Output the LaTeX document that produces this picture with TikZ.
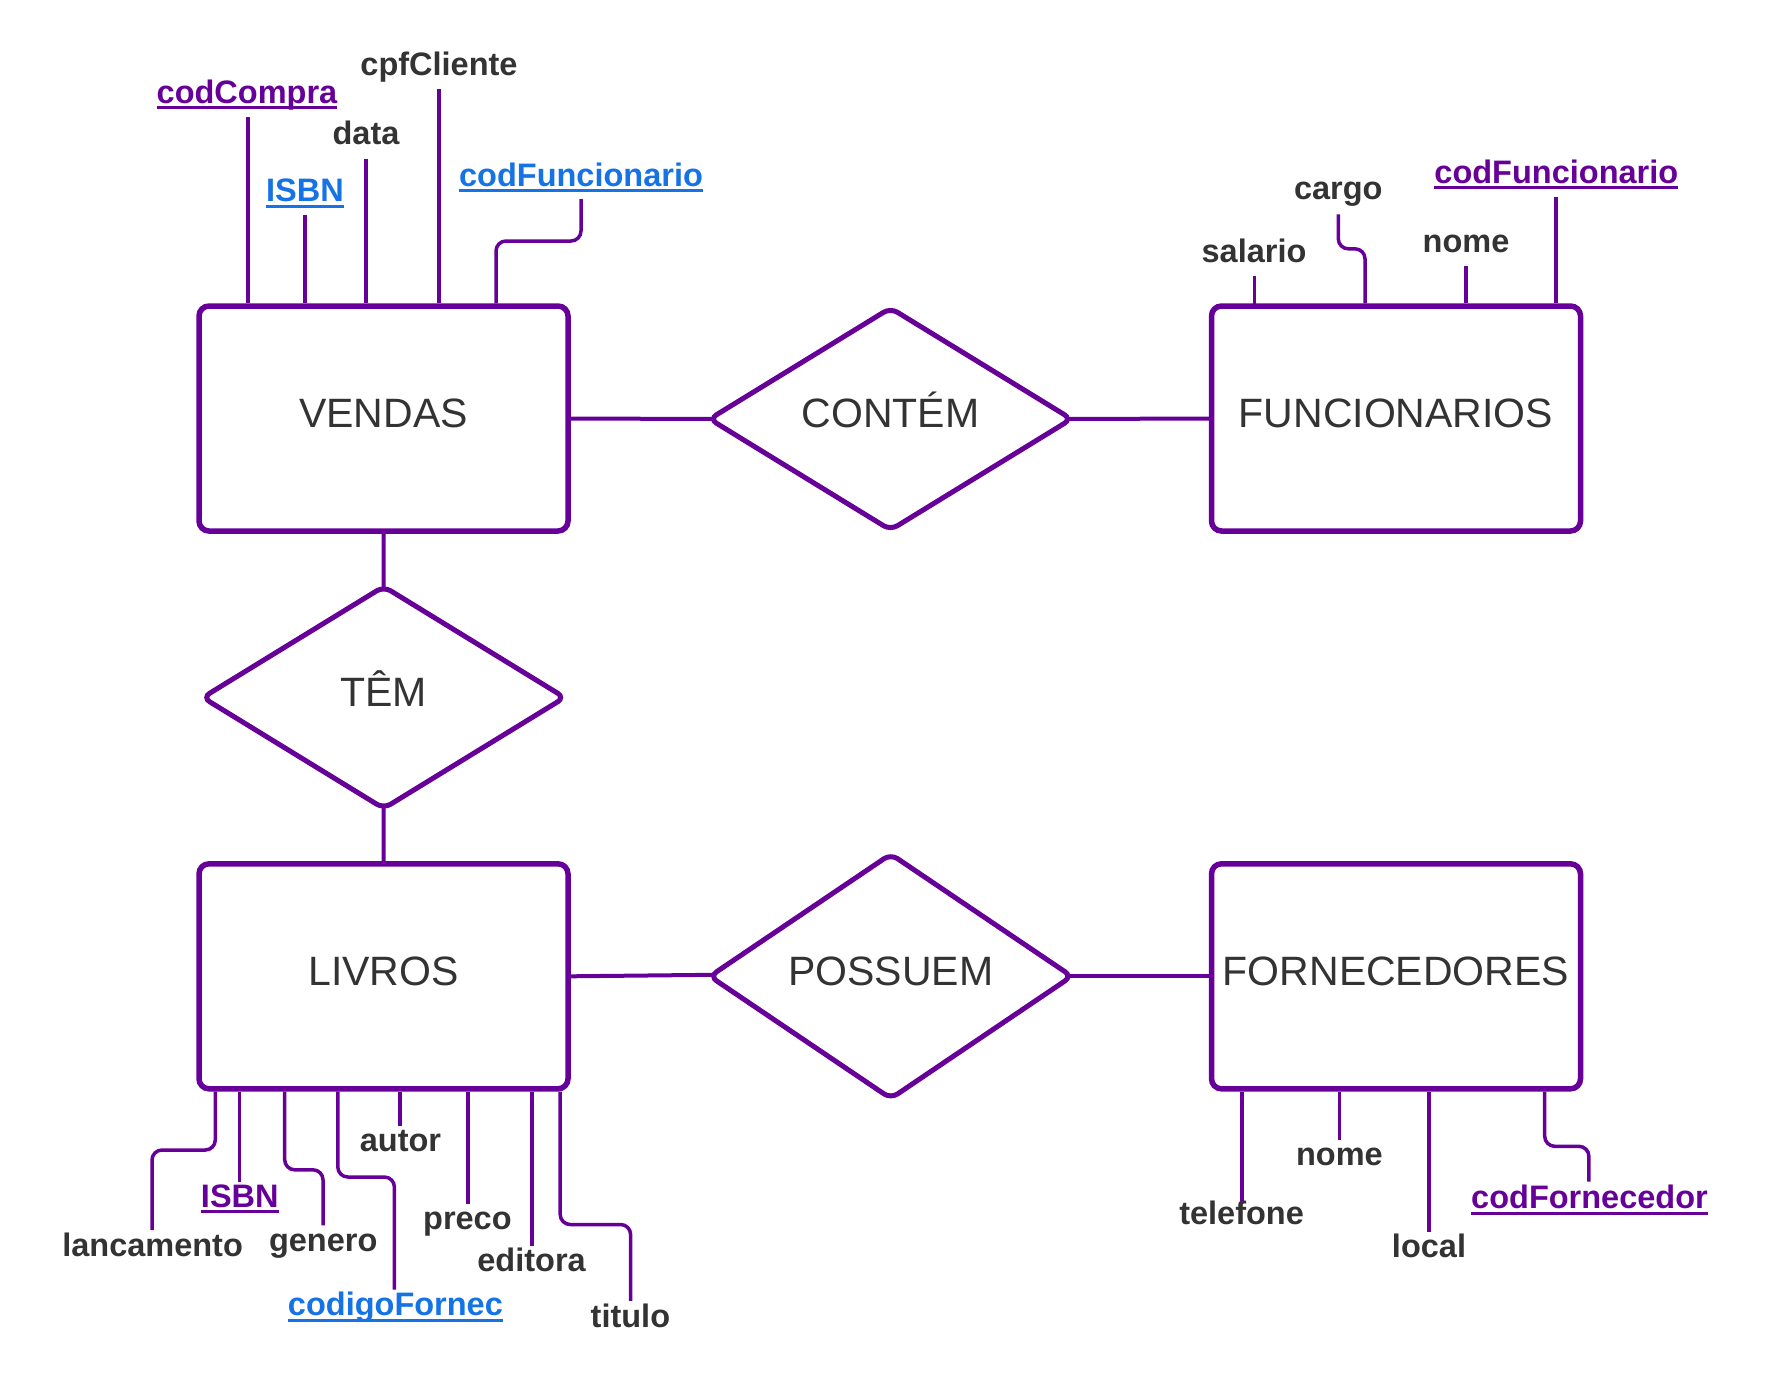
\documentclass[tikz,border=0pt]{standalone}
\usepackage{fontspec}
\setmainfont{Liberation Sans}
\usetikzlibrary{shapes.geometric}
\definecolor{pur}{RGB}{102,0,153}
\definecolor{lnk}{RGB}{22,115,230}
\definecolor{txt}{RGB}{51,51,51}
\newcommand\attrU[6]{%
  \node[#2] (#1) at (#4,#5) {#6};
  \draw[draw=#3, line width=3pt] ([yshift=-4.5pt]#1.base west) -- ([yshift=-4.5pt]#1.base east);}
\begin{document}
\begin{tikzpicture}[x=1pt,y=-1pt,
  entity/.style={draw=pur, line width=5.5pt, rounded corners=10pt, minimum width=369pt, minimum height=225pt, inner sep=0pt, text=txt, font=\fontsize{41}{48}\selectfont, text height=29.4pt, text depth=12pt},
  rel/.style={diamond, draw=pur, line width=5pt, rounded corners=8pt, minimum width=364pt, minimum height=224pt, inner sep=0pt, text=txt, font=\fontsize{41}{48}\selectfont, text height=29.4pt, text depth=12pt},
  attr/.style={inner sep=0pt, anchor=base, text=txt, font=\bfseries\fontsize{32.5}{38}\selectfont},
  keyp/.style={attr, text=pur},
  keyb/.style={attr, text=lnk},
  conn/.style={draw=pur, line width=4pt},
  aline/.style={draw=pur, line width=3.5pt, rounded corners=10pt}]
\useasboundingbox (0,0) rectangle (1789,1384);
\fill[white] (0,0) rectangle (1789,1384);

% entities
\node[entity] (V) at (383.5,418.5) {VENDAS};
\node[entity] (F) at (1396,418.5) {FUNCIONARIOS};
\node[entity] (L) at (383.5,976.3) {LIVROS};
\node[entity] (Fo) at (1396,976.3) {FORNECEDORES};

% relationships
\node[rel] (C) at (890.5,419) {CONTÉM};
\node[rel] (T) at (383.7,697.5) {TÊM};
\node[rel] (P) at (890.8,976.3) {POSSUEM};

\draw[conn] (V.east) -- ([xshift=7pt]C.west);
\draw[conn] ([xshift=-7pt]C.east) -- (F.west);
\draw[conn] (V.south) -- ([yshift=-7pt]T.north);
\draw[conn] ([yshift=7pt]T.south) -- (L.north);
\draw[conn] (L.east) -- ([xshift=7pt,yshift=1.5pt]P.west);
\draw[conn] ([xshift=-7pt]P.east) -- (Fo.west);

% VENDAS attributes
\attrU{vcc}{keyp}{pur}{247}{103.3}{codCompra}
\coordinate (vcc1) at (248,117);
\draw[aline] (vcc1) -- (vcc1 |- V.north);
\attrU{visbn}{keyb}{lnk}{305}{201.7}{ISBN}
\coordinate (visbn1) at (305,215);
\draw[aline] (visbn1) -- (visbn1 |- V.north);
\node[attr] (vdata) at (366,144.7) {data};
\coordinate (vdata1) at (366,159);
\draw[aline] (vdata1) -- (vdata1 |- V.north);
\node[attr] (vcpf) at (439,75.7) {cpfCliente};
\coordinate (vcpf1) at (439,89);
\draw[aline] (vcpf1) -- (vcpf1 |- V.north);
\attrU{vcf}{keyb}{lnk}{581}{186}{codFuncionario}
\coordinate (vcf1) at (581,199);
\draw[aline] (vcf1) -- (581,241) -- (496,241) -- (496,0 |- V.north);

% FUNCIONARIOS attributes
\node[attr] (fsal) at (1254,262) {salario};
\coordinate (fsal1) at (1254.4,275.5);
\draw[aline] (fsal1) -- ([yshift=-4pt]fsal1 |- F.north);
\node[attr] (fcargo) at (1338.3,199) {cargo};
\coordinate (fcargo1) at (1338.3,214.3);
\draw[aline] (fcargo1) -- (1338.3,248.8) -- (1365,248.8) -- (1365,0 |- F.north);
\node[attr] (fnome) at (1466,252.6) {nome};
\coordinate (fnome1) at (1466,266);
\draw[aline] (fnome1) -- (fnome1 |- F.north);
\attrU{fcf}{keyp}{pur}{1556.3}{183}{codFuncionario}
\coordinate (fcf1) at (1556,197);
\draw[aline] (fcf1) -- (fcf1 |- F.north);

% LIVROS attributes
\node[attr] (llan) at (152.6,1256) {lancamento};
\coordinate (llan1) at (152,1230);
\draw[aline] (llan1) -- (152,1150) -- (215.3,1150) -- (215.3,0 |- L.south);
\attrU{lisbn}{keyp}{pur}{239.8}{1207}{ISBN}
\coordinate (lisbn1) at (239.3,1181.7);
\draw[aline] (lisbn1) -- (lisbn1 |- L.south);
\node[attr] (lgen) at (323.2,1251) {genero};
\coordinate (lgen1) at (323,1225.3);
\draw[aline] (lgen1) -- (323,1169.8) -- (284.7,1169.8) -- (284.7,0 |- L.south);
\attrU{lcod}{keyb}{lnk}{395.4}{1315.8}{codigoFornec}
\coordinate (lcod1) at (394.4,1289.7);
\draw[aline] (lcod1) -- (394.4,1177) -- (337.8,1177) -- (337.8,0 |- L.south);
\node[attr] (laut) at (400.5,1151) {autor};
\coordinate (laut1) at (400,1125.8);
\draw[aline] (laut1) -- (laut1 |- L.south);
\node[attr] (lpre) at (467.4,1229.4) {preco};
\coordinate (lpre1) at (467.9,1204);
\draw[aline] (lpre1) -- (lpre1 |- L.south);
\node[attr] (ledi) at (531.6,1271) {editora};
\coordinate (ledi1) at (532,1245.8);
\draw[aline] (ledi1) -- (ledi1 |- L.south);
\node[attr] (ltit) at (630.4,1327) {titulo};
\coordinate (ltit1) at (630.6,1300.9);
\draw[aline] (ltit1) -- (630.6,1224.5) -- (560.2,1224.5) -- (560.2,0 |- L.south);

% FORNECEDORES attributes
\node[attr] (otel) at (1241.6,1224.5) {telefone};
\coordinate (otel1) at (1241.9,1201.4);
\draw[aline] (otel1) -- (otel1 |- Fo.south);
\node[attr] (onome) at (1339.4,1165.7) {nome};
\coordinate (onome1) at (1339.4,1140);
\draw[aline] (onome1) -- (onome1 |- Fo.south);
\node[attr] (oloc) at (1429,1257.3) {local};
\coordinate (oloc1) at (1429,1232);
\draw[aline] (oloc1) -- (oloc1 |- Fo.south);
\attrU{ocod}{keyp}{pur}{1589.5}{1208.5}{codFornecedor}
\coordinate (ocod1) at (1588.9,1181.7);
\draw[aline] (ocod1) -- (1588.9,1146.3) -- (1544.7,1146.3) -- (1544.7,0 |- Fo.south);
\end{tikzpicture}
\end{document}
